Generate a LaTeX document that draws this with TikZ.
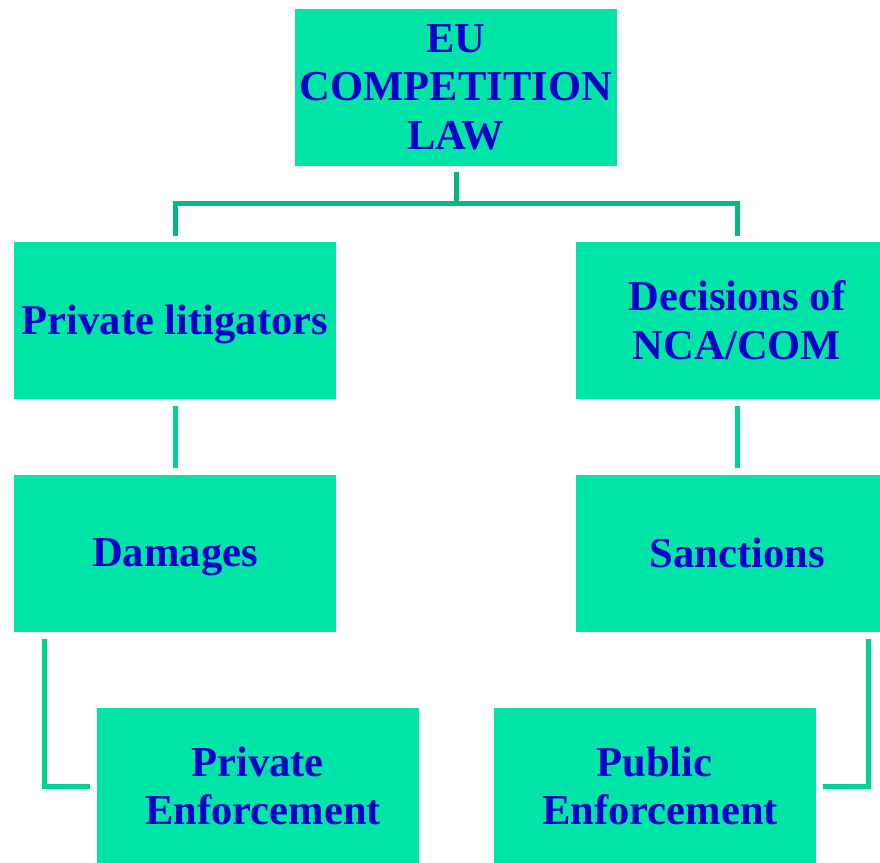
\documentclass[tikz,border=0pt]{standalone}
\usepackage{fontspec}
\setmainfont{Liberation Serif}
\definecolor{boxmint}{HTML}{00E4A8}
\definecolor{linetop}{HTML}{00B884}
\definecolor{linemid}{HTML}{00D294}
\definecolor{textblue}{HTML}{0000C8}
\begin{document}
\begin{tikzpicture}[x=1pt,y=-1pt]

      \useasboundingbox (0,0) rectangle (880,862);

      \begin{scope}[every node/.style={rectangle,fill=boxmint,text=textblue,
          font=\fontsize{42.6}{48.5}\selectfont\bfseries,align=center,
          minimum width=322pt,minimum height=157pt,inner sep=0pt}]
        \node (law) at (456,87) {EU\\COMPETITION\\LAW};
        \node[text depth=0pt] (priv) at (175,320) {Private litigators};
        \node (nca) at (737,320) {Decisions of\\NCA/COM};
        \node[text depth=0pt] (dam) at (175,553) {Damages};
        \node[text depth=0pt] (sanc) at (737,553) {Sanctions};
        \node (privenf) at (257.5,786) {Private\\\hspace*{11pt}Enforcement};
        \node (pubenf) at (654.5,786) {Public\\\hspace*{11pt}Enforcement};
      \end{scope}

      \begin{scope}[line width=5pt]

        \begin{scope}[draw=linetop]
          \draw ([yshift=-6pt]law.south) -- ++(0,32) coordinate (fork);
          \draw (fork) -| ([yshift=5pt]priv.north);
          \draw (fork) -| ([yshift=5pt]nca.north);
        \end{scope}

        \begin{scope}[draw=linemid]
          \draw ([yshift=-7pt]priv.south) -- ([yshift=6pt]dam.north);
          \draw ([yshift=-7pt]nca.south) -- ([yshift=6pt]sanc.north);
          \draw ([xshift=-130.5pt,yshift=-7pt]dam.south) |- ([xshift=-6pt]privenf.west);
          \draw ([xshift=131pt,yshift=-7pt]sanc.south) |- ([xshift=7pt]pubenf.east);
        \end{scope}

      \end{scope}

    \end{tikzpicture}
\end{document}
